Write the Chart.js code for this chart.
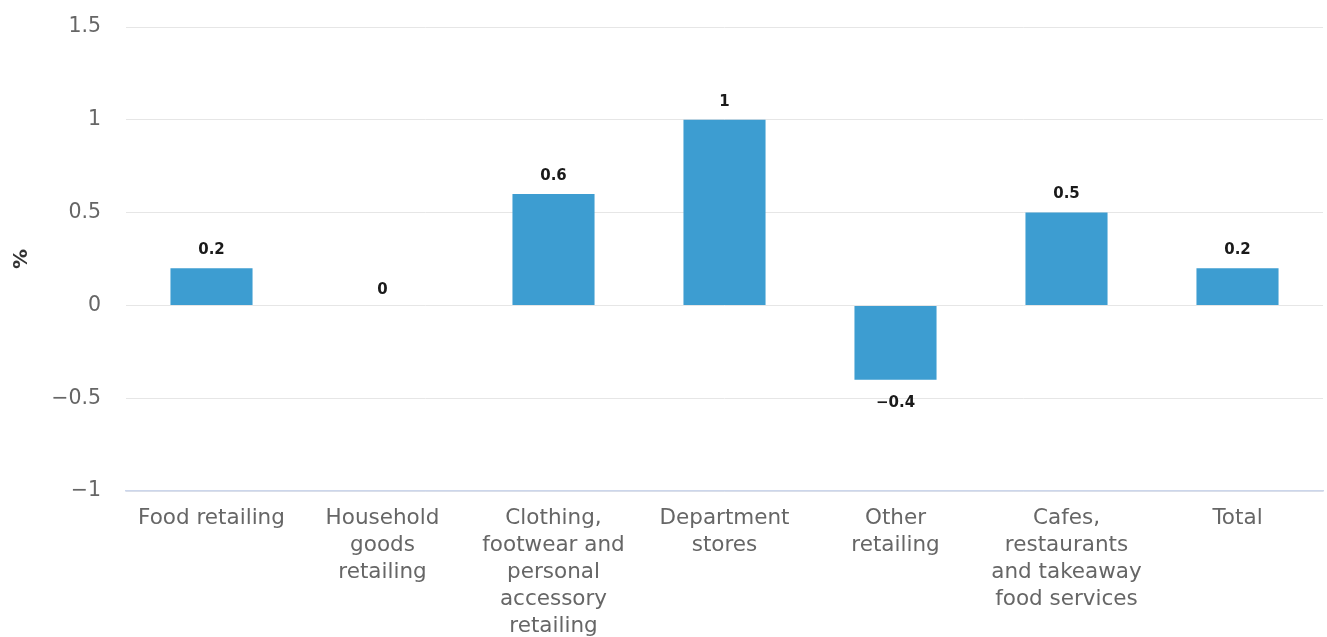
<!DOCTYPE html>
<html>
<head>
<meta charset="utf-8">
<script src="https://cdn.jsdelivr.net/npm/chart.js@4"></script>
<style>
  html, body { margin: 0; padding: 0; background: #ffffff; }
  #wrap { width: 1327px; height: 637px; position: relative; }
</style>
</head>
<body>
<div id="wrap"><canvas id="salesChart"></canvas></div>
<script>
// ===== DATA =====
const categories = [
  ["Food retailing"],
  ["Household", "goods", "retailing"],
  ["Clothing,", "footwear and", "personal", "accessory", "retailing"],
  ["Department", "stores"],
  ["Other", "retailing"],
  ["Cafes,", "restaurants", "and takeaway", "food services"],
  ["Total"]
];
const changePct = [0.2, 0, 0.6, 1, -0.4, 0.5, 0.2];
const yTicks = [-1, -0.5, 0, 0.5, 1, 1.5];
const yTitle = "%";

const FONT = "'DejaVu Sans', sans-serif";
const minus = v => String(v).replace("-", "\u2212");

// value labels above / below each bar
const barLabels = {
  id: "barLabels",
  afterDatasetsDraw(chart) {
    const c = chart.ctx;
    const meta = chart.getDatasetMeta(0);
    c.save();
    c.font = "bold 15px " + FONT;
    c.fillStyle = "#1a1a1a";
    c.textAlign = "center";
    c.textBaseline = "middle";
    meta.data.forEach((bar, i) => {
      const v = changePct[i];
      let y = bar.y - 18;
      if (v < 0) y = bar.y + 23;
      else if (v === 0) y = bar.y - 15;
      c.fillText(minus(v), bar.x, y);
    });
    c.restore();
  }
};

const ctx = document.getElementById("salesChart").getContext("2d");
new Chart(ctx, {
  type: "bar",
  data: {
    labels: categories,
    datasets: [{
      data: changePct,
      backgroundColor: "#3d9dd1",
      borderWidth: 0,
      barPercentage: 0.48,
      categoryPercentage: 1
    }]
  },
  options: {
    responsive: true,
    maintainAspectRatio: false,
    animation: false,
    layout: { padding: { top: 27, right: 4, left: 0, bottom: 0 } },
    plugins: {
      legend: { display: false },
      tooltip: { enabled: false }
    },
    scales: {
      x: {
        grid: { display: false, drawTicks: false, tickLength: 0 },
        border: { display: true, color: "#ccd6eb", width: 1.5 },
        ticks: {
          color: "#666666",
          padding: 14,
          maxRotation: 0,
          autoSkip: false,
          font: { family: FONT, size: 21.5, lineHeight: "27px" }
        },
        afterFit: scale => { scale.height = 146; }
      },
      y: {
        min: yTicks[0],
        max: yTicks[yTicks.length - 1],
        grid: { color: "#e6e6e6", drawTicks: false, tickLength: 0 },
        border: { display: false },
        ticks: {
          stepSize: 0.5,
          color: "#666666",
          padding: 25,
          font: { family: FONT, size: 20.5 },
          callback: val => minus(val)
        },
        title: {
          display: true,
          text: yTitle,
          color: "#333333",
          padding: { top: 10, bottom: 0 },
          font: { family: FONT, size: 20, weight: "bold", lineHeight: 1.2 }
        },
        afterFit: scale => {
          scale.width = 126;
          scale.paddingTop = 0;
          scale.paddingBottom = 0;
        }
      }
    }
  },
  plugins: [barLabels]
});
</script>
</body>
</html>
